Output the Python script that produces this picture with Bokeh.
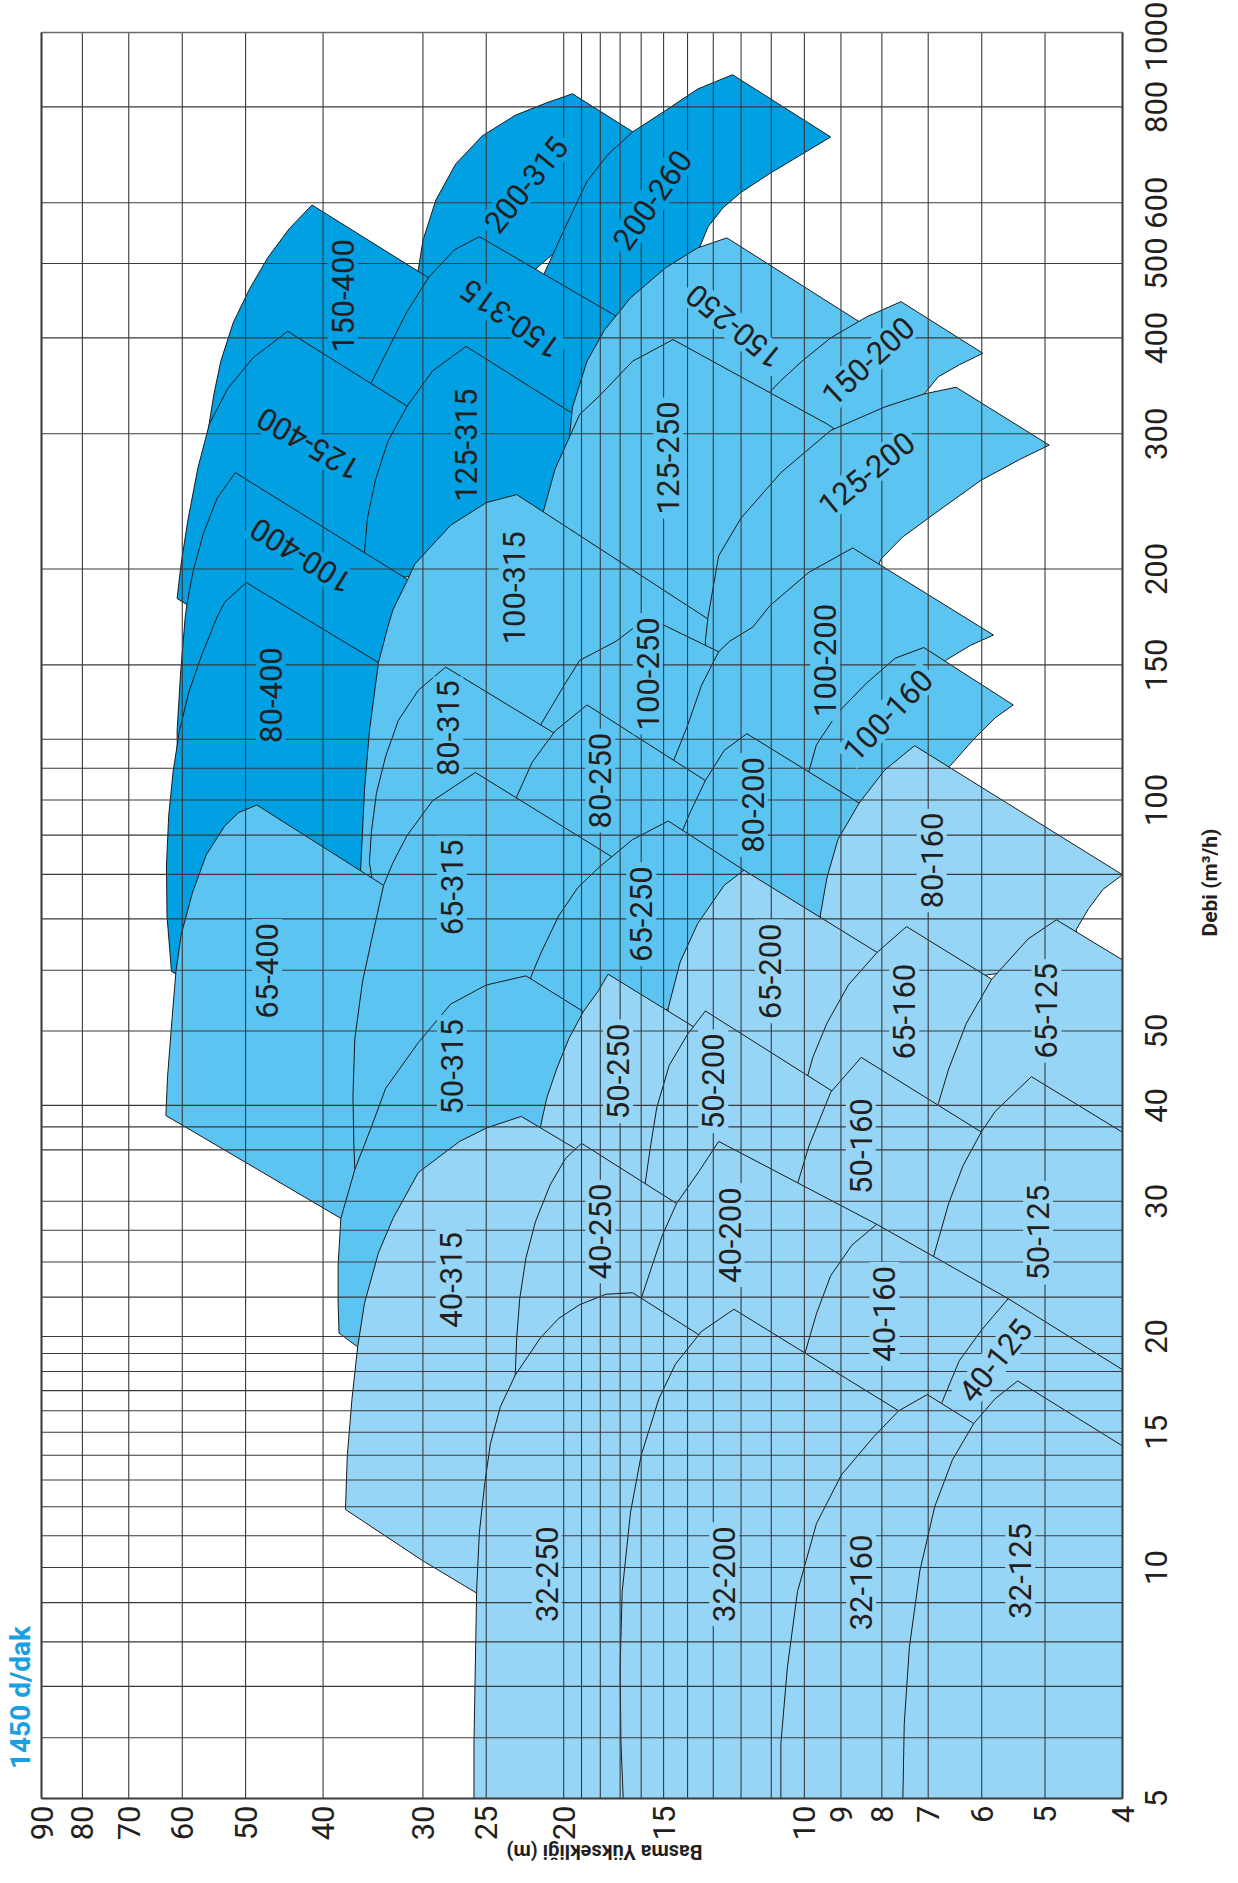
import math
from bokeh.plotting import figure
from bokeh.models import Range1d, Label, ColumnDataSource
from bokeh.core.properties import value
from bokeh.embed import file_html
from bokeh.resources import INLINE

DARK = "#00a0e3"
MED = "#5bc4f1"
LIGHT = "#96d5f5"
INK = "#231f20"

HEAD_GRID = [90, 80, 70, 60, 50, 40, 30, 25, 20, 19, 18, 17, 16, 15, 14, 13, 12, 11, 10, 9, 8, 7, 6, 5, 4]
HEAD_TICKS = [90, 80, 70, 60, 50, 40, 30, 25, 20, 15, 10, 9, 8, 7, 6, 5, 4]
FLOW_GRID = [1000, 800, 600, 500, 400, 300, 200, 150, 120, 110, 100, 90, 80, 70, 60, 50, 40, 37.5, 35,
             30, 27.5, 25, 22.5, 20, 19, 18, 17, 16, 15, 14, 13, 12, 11, 10, 9, 8, 7, 6, 5]
FLOW_TICKS = [5, 10, 15, 20, 30, 40, 50, 100, 150, 200, 300, 400, 500, 600, 800, 1000]

# ---- pump coverage outlines: head H (m), flow Q (m3/h) ----
H_200_315 = [30.9, 30.4, 30.0, 28.9, 27.3, 25.3, 23.0, 21.0, 19.5, 14.8, 23.7]
Q_200_315 = [423, 491, 536, 605, 674, 733, 780, 810, 832, 694, 454]
H_200_260 = [21.9, 21.2, 19.9, 18.7, 17.6, 16.4, 14.9, 13.6, 12.3, 9.27, 10.07, 11.05, 12.0, 12.64, 13.2, 13.5, 14.0]
Q_200_260 = [423, 483, 558, 640, 694, 742, 792, 844, 881, 731, 694, 655, 619, 591, 558, 527, 404]
H_150_400 = [56.0, 55.5, 54.8, 53.7, 51.8, 49.4, 46.9, 44.1, 41.3, 29.5, 26.3, 35.9]
Q_150_400 = [287, 310, 337, 373, 419, 464, 509, 555, 596, 479, 443, 303]
H_150_315 = [35.9, 34.8, 33.0, 31.4, 29.5, 27.4, 25.5, 14.0, 21.0]
Q_150_315 = [321, 350, 391, 433, 480, 521, 542, 377, 293]
H_125_400 = [60.9, 60.2, 59.1, 57.4, 55.5, 52.6, 48.9, 44.3, 31.4, 27.7, 44.1]
Q_125_400 = [183, 203, 230, 270, 309, 344, 377, 408, 326, 300, 149]
H_125_315 = [35.7, 35.5, 35.2, 34.4, 33.2, 31.4, 29.2, 26.5, 19.7, 16.4, 23.7]
Q_125_315 = [192, 210, 233, 261, 293, 326, 362, 390, 321, 290, 203]
H_100_400 = [60.8, 60.9, 60.3, 59.5, 59.2, 58.2, 56.5, 54.3, 51.5, 31.4, 26.3, 32.4, 44.1]
Q_100_400 = [103, 123, 146, 173, 180, 198, 222, 247, 267, 194, 173, 130, 123]
H_80_400 = [61.9, 62.2, 62.7, 62.8, 62.4, 61.6, 60.5, 58.9, 56.8, 54.3, 53.1, 49.9, 34.1, 30.7, 32.4, 44.1]
Q_80_400 = [59.8, 63.7, 70.6, 82.0, 95.2, 109, 123, 138, 154, 173, 181, 192, 151, 139, 77.4, 48.9]

H_150_250 = [19.7, 19.5, 18.7, 17.8, 16.5, 14.9, 13.6, 12.5, 8.54, 7.94, 10.3]
Q_150_250 = [293, 325, 373, 409, 451, 494, 524, 540, 420, 391, 287]
H_150_200 = [11.6, 11.2, 10.7, 10.07, 9.27, 8.36, 7.57, 5.98, 6.40, 6.80, 7.05, 7.94]
Q_150_200 = [307, 335, 352, 373, 400, 426, 446, 382, 369, 356, 340, 293]
H_125_250 = [21.3, 21.2, 20.5, 19.1, 18.0, 16.4, 14.6, 9.37, 8.54, 12.6]
Q_125_250 = [222, 238, 270, 318, 337, 373, 398, 309, 290, 161]
H_100_315 = [36.0, 35.9, 35.5, 35.0, 34.1, 33.2, 32.7, 31.4, 30.7, 27.7, 25.0, 22.9, 13.3, 12.0, 29.2]
Q_100_315 = [75, 81.0, 103, 123, 151, 168, 177, 193, 203, 228, 244, 250, 173, 161, 69.0]
H_125_200 = [13.2, 13.3, 13.2, 12.8, 12.0, 10.7, 9.27, 7.94, 7.09, 6.46, 4.94, 5.37, 6.01, 6.80, 7.54, 8.02, 8.36]
Q_125_200 = [146, 161, 173, 208, 233, 267, 303, 325, 338, 345, 290, 278, 261, 238, 220, 206, 185]
H_100_250 = [21.9, 21.4, 19.9, 19.1, 17.2, 15.7, 12.8, 11.6, 14.0]
Q_100_250 = [114, 125, 142, 152, 161, 173, 156, 147, 97.4]
H_100_200 = [14.6, 14.6, 14.0, 13.45, 12.8, 12.4, 11.6, 11.05, 9.87, 8.70, 5.80, 6.20, 6.66, 7.17, 8.81]
Q_100_200 = [102, 112, 125, 141, 156, 161, 168, 179, 198, 213, 164, 159, 152, 138, 97.4]
H_100_160 = [9.95, 9.87, 9.66, 9.08, 8.36, 7.70, 7.09, 5.48, 5.77, 6.14, 6.56, 7.54]
Q_100_160 = [99.7, 109, 118, 130, 142, 153, 158, 133, 128, 120, 111, 97.4]
H_80_315 = [34.5, 35.0, 34.8, 34.3, 33.4, 32.2, 30.4, 28.1, 20.5, 18.2, 23.7]
Q_80_315 = [75.6, 82.9, 90.9, 102, 114, 127, 139, 149, 122, 112, 86.8]
H_80_250 = [23.0, 22.9, 21.9, 20.5, 18.7, 13.3, 12.0, 12.4, 17.2]
Q_80_250 = [91.0, 101, 112, 123, 133, 106, 98.5, 86.8, 82.0]
H_80_200 = [14.3, 14.2, 13.9, 13.3, 12.6, 11.8, 8.54, 7.78, 8.36, 11.4]
Q_80_200 = [84.8, 91.3, 96.3, 106, 116, 122, 99.1, 93.0, 69.0, 69.0]
H_65_400 = [62.9, 62.6, 61.8, 61.1, 60.2, 58.3, 56.0, 53.1, 51.0, 48.4, 33.6, 31.0, 32.4, 34.1, 38.0]
Q_65_400 = [38.8, 43.6, 51.8, 59.8, 66.7, 75.6, 84.8, 92.5, 96.3, 98.5, 77.4, 73.5, 43.6, 26.3, 28.5]
H_65_315 = [36.5, 36.6, 36.7, 36.5, 35.7, 34.6, 33.6, 32.7, 31.4, 29.2, 25.8, 17.4, 15.5, 23.7]
Q_65_315 = [33.0, 35.4, 41.1, 48.9, 58.0, 67.4, 77.4, 82.9, 89.9, 99.7, 108.6, 84.3, 78.3, 43.6]
H_65_250 = [21.4, 22.0, 21.4, 20.3, 19.2, 18.0, 16.4, 14.8, 11.9, 10.3, 14.0, 17.2]
Q_65_250 = [54.8, 58.7, 62.9, 70.6, 76.9, 82.0, 88.8, 93.9, 81.0, 72.2, 54.8, 50.0]
H_50_315 = [38.2, 38.3, 38.3, 38.0, 36.5, 34.8, 33.4, 30.4, 27.7, 25.0, 22.3, 18.9, 16.4, 32.4]
Q_50_315 = [20.2, 22.1, 24.8, 28.5, 33.0, 37.5, 42.1, 48.3, 54.2, 57.4, 59.0, 53.0, 47.2, 17.8]

H_80_160 = [9.47, 9.55, 9.37, 9.08, 8.54, 7.94, 7.28, 4.0, 4.23, 4.41, 4.57, 4.50, 6.80]
Q_80_160 = [62.9, 70.8, 79.2, 88.8, 99.1, 109.3, 117.7, 79.9, 76.5, 72.2, 67.8, 61.5, 58.0]
H_65_200 = [14.9, 14.8, 14.3, 13.6, 12.6, 11.9, 8.11, 7.39, 9.27, 10.3]
Q_65_200 = [48.9, 53.6, 61.5, 69.0, 77.4, 81.0, 63.3, 59.4, 48.9, 38.8]
H_65_160 = [9.95, 9.90, 9.76, 9.37, 8.81, 8.11, 7.45, 5.83, 5.25, 6.80]
Q_65_160 = [39.7, 43.8, 46.2, 51.2, 57.4, 63.3, 68.4, 58.4, 54.8, 36.7]
H_65_125 = [6.88, 6.80, 6.60, 6.27, 5.83, 5.25, 4.84, 4.0, 4.0]
Q_65_125 = [34.6, 40.2, 44.6, 51.2, 58.4, 65.9, 69.8, 61.9, 32.7]
H_50_250 = [21.6, 21.4, 21.0, 20.4, 19.7, 18.9, 18.1, 17.6, 13.7, 12.4, 14.0, 15.0]
Q_50_250 = [33.8, 37.4, 40.9, 44.7, 48.9, 53.0, 56.4, 59.3, 50.5, 47.2, 38.8, 27.5]
H_50_200 = [15.9, 15.8, 15.6, 15.3, 14.76, 14.0, 13.3, 9.18, 8.36, 9.27]
Q_50_200 = [28.8, 31.9, 35.0, 39.7, 45.1, 49.5, 53.1, 41.6, 38.8, 30.9]
H_50_160 = [10.3, 10.2, 9.87, 9.27, 8.49, 6.00, 5.42, 6.14, 8.12]
Q_50_160 = [28.8, 31.6, 35.4, 41.6, 46.2, 36.9, 34.6, 22.1, 25.0]
H_50_125 = [6.95, 6.91, 6.60, 6.33, 6.01, 5.77, 5.20, 4.0, 4.0]
Q_50_125 = [22.9, 25.2, 29.8, 33.4, 36.9, 39.3, 43.6, 36.9, 16.6]
H_40_315 = [37.5, 37.3, 36.8, 36.2, 35.5, 34.1, 32.7, 30.4, 27.0, 24.95, 22.6, 19.4, 17.5, 23.7, 25.7, 30.0]
Q_40_315 = [11.9, 14.0, 16.6, 19.4, 22.1, 25.7, 28.5, 32.7, 35.9, 37.4, 38.7, 35.2, 32.2, 8.33, 9.26, 10.2]
H_40_250 = [23.0, 22.9, 22.7, 22.3, 21.7, 20.8, 19.9, 19.0, 14.45, 13.1, 19.3]
Q_40_250 = [17.8, 19.9, 22.4, 25.3, 28.2, 31.5, 34.1, 35.7, 29.8, 27.9, 13.2]
H_40_200 = [16.1, 16.0, 15.55, 15.05, 14.45, 13.55, 12.8, 8.12, 9.27]
Q_40_200 = [20.9, 22.4, 24.5, 27.1, 29.8, 32.8, 35.9, 28.0, 17.6]
H_40_160 = [10.05, 9.97, 9.66, 9.27, 8.72, 8.12, 5.56, 4.99, 6.14]
Q_40_160 = [17.4, 19.1, 21.4, 24.0, 26.3, 28.0, 22.4, 20.4, 13.2]
H_40_125 = [6.80, 6.73, 6.40, 6.00, 5.56, 4.0, 4.0]
Q_40_125 = [15.1, 16.4, 18.6, 20.4, 22.4, 18.1, 13.9]
H_32_250 = [25.9, 25.9, 25.8, 25.7, 25.5, 25.1, 24.7, 24.0, 23.0, 21.4, 20.3, 19.1, 17.7, 16.4, 13.55, 12.25, 10.0]
Q_32_250 = [5.0, 5.9, 7.42, 9.35, 11.1, 12.9, 14.5, 16.2, 17.8, 19.9, 21.1, 22.0, 22.7, 22.8, 20.1, 18.6, 5.0]
H_32_200 = [16.85, 16.96, 17.0, 16.9, 16.5, 16.0, 15.2, 14.5, 13.45, 12.25, 7.62, 6.95, 6.5]
Q_32_200 = [5.0, 5.9, 7.4, 9.3, 11.8, 14.0, 16.6, 18.4, 20.3, 21.7, 16.0, 15.0, 5.0]
H_32_160 = [10.7, 10.7, 10.5, 10.2, 9.66, 8.99, 8.19, 7.62, 7.02, 6.14, 5.53, 4.5]
Q_32_160 = [5.0, 5.9, 7.42, 9.3, 11.4, 13.2, 14.8, 16.0, 16.8, 15.4, 14.5, 5.0]
H_32_125 = [7.53, 7.5, 7.39, 7.17, 6.87, 6.53, 6.14, 5.77, 5.41, 4.0, 4.0]
Q_32_125 = [5.0, 6.25, 7.87, 9.9, 12.0, 13.8, 15.4, 16.6, 17.5, 14.4, 5.0]

# drawing order (later = on top)
PUMPS = [
    (H_200_315, Q_200_315, DARK), (H_200_260, Q_200_260, DARK), (H_150_400, Q_150_400, DARK),
    (H_150_315, Q_150_315, DARK), (H_125_400, Q_125_400, DARK), (H_125_315, Q_125_315, DARK),
    (H_100_400, Q_100_400, DARK), (H_80_400, Q_80_400, DARK),
    (H_150_250, Q_150_250, MED), (H_150_200, Q_150_200, MED), (H_125_250, Q_125_250, MED),
    (H_100_315, Q_100_315, MED), (H_125_200, Q_125_200, MED), (H_100_250, Q_100_250, MED),
    (H_100_200, Q_100_200, MED), (H_100_160, Q_100_160, MED), (H_80_315, Q_80_315, MED),
    (H_80_250, Q_80_250, MED), (H_80_200, Q_80_200, MED), (H_65_400, Q_65_400, MED),
    (H_65_315, Q_65_315, MED), (H_65_250, Q_65_250, MED), (H_50_315, Q_50_315, MED),
    (H_80_160, Q_80_160, LIGHT), (H_65_200, Q_65_200, LIGHT), (H_65_160, Q_65_160, LIGHT),
    (H_65_125, Q_65_125, LIGHT), (H_50_250, Q_50_250, LIGHT), (H_50_200, Q_50_200, LIGHT),
    (H_50_160, Q_50_160, LIGHT), (H_50_125, Q_50_125, LIGHT), (H_40_315, Q_40_315, LIGHT),
    (H_40_250, Q_40_250, LIGHT), (H_40_200, Q_40_200, LIGHT), (H_40_160, Q_40_160, LIGHT),
    (H_40_125, Q_40_125, LIGHT), (H_32_250, Q_32_250, LIGHT), (H_32_200, Q_32_200, LIGHT),
    (H_32_160, Q_32_160, LIGHT), (H_32_125, Q_32_125, LIGHT),
]

LABEL_TEXT = ["200-315", "200-260", "150-400", "150-315", "125-400", "125-315", "100-400", "80-400",
              "100-315", "150-250", "150-200", "125-250", "125-200", "100-250", "100-200", "100-160",
              "80-315", "80-250", "80-200", "65-400", "65-315", "65-250", "50-315",
              "80-160", "65-200", "65-160", "65-125", "50-250", "50-200", "50-160", "50-125",
              "40-315", "40-250", "40-200", "40-160", "40-125", "32-250", "32-200", "32-160", "32-125"]
LABEL_H = [22.3, 15.5, 37.8, 23.3, 41.7, 26.5, 42.6, 46.5,
           23.1, 12.25, 8.32, 14.8, 8.36, 15.7, 9.42, 7.86,
           27.9, 18.0, 11.6, 47.0, 27.6, 16.0, 27.6,
           6.93, 11.05, 7.5, 4.98, 17.1, 13.0, 8.5, 5.1,
           27.7, 18.0, 12.4, 7.94, 5.77, 21.0, 12.6, 8.49, 5.37]
LABEL_Q = [633, 605, 454, 423, 291, 290, 208, 137,
           189, 414, 373, 279, 266, 146, 152, 129,
           124, 106, 98.5, 59.9, 76.9, 71.0, 44.9,
           83.4, 59.8, 53.0, 53.1, 44.3, 43.0, 35.4, 27.3,
           23.7, 27.4, 27.1, 21.4, 18.6, 9.8, 9.8, 9.56, 9.9]
LABEL_ANGLE = [51, 55, 90, 145, 150, 90, 148, 90,
               90, 141, 43, 90, 39, 90, 90, 46,
               90, 90, 90, 90, 90, 90, 90,
               90, 90, 90, 90, 90, 90, 90, 90,
               90, 90, 90, 90, 51, 90, 90, 90, 90]
LABEL_BG = [DARK] * 8 + [MED] * 15 + [LIGHT] * 17

# ---- layout (page pixels; page has an 8px margin) ----
W, HT, M = 1222, 1867, 8
GX0, GX1, GY0, GY1 = 49, 1130, 40, 1806   # grid box on the page
DEC_X = math.log10(90 / 4)
DEC_Y = math.log10(1000 / 5)


def px_h(x):
    return 90 * 10 ** (-(x - GX0) / (GX1 - GX0) * DEC_X)


def px_q(y):
    return 1000 * 10 ** (-(y - GY0) / (GY1 - GY0) * DEC_Y)


p = figure(width=W, height=HT, x_axis_type="log", y_axis_type="log",
           x_range=Range1d(px_h(M), px_h(M + W)), y_range=Range1d(px_q(M + HT), px_q(M)),
           x_axis_location=None, y_axis_location=None, min_border=0,
           output_backend="svg", toolbar_location=None)
p.background_fill_color = "white"
p.border_fill_color = "white"
p.outline_line_color = None
p.grid.visible = False

src = ColumnDataSource(dict(xs=[h for h, q, c in PUMPS], ys=[q for h, q, c in PUMPS],
                            color=[c for h, q, c in PUMPS]))
p.patches("xs", "ys", source=src, fill_color="color", fill_alpha=1.0,
          line_color="#1a1a1a", line_width=1.0)

# grid lines over the coloured areas
p.segment(x0=HEAD_GRID, y0=[5] * len(HEAD_GRID), x1=HEAD_GRID, y1=[1000] * len(HEAD_GRID),
          line_color="#3a3a3a", line_width=1.1)
p.segment(x0=[90] * len(FLOW_GRID), y0=FLOW_GRID, x1=[4] * len(FLOW_GRID), y1=FLOW_GRID,
          line_color="#3a3a3a", line_width=1.1)
# frame
p.segment(x0=[90, 4, 90], y0=[5, 5, 5], x1=[90, 4, 4], y1=[1000, 1000, 5],
          line_color="#3a3a3a", line_width=2)
p.segment(x0=[90], y0=[1000], x1=[4], y1=[1000], line_color="#6a6a6a", line_width=1.6)

# tick labels
fx = px_h(1163)
p.text(x=[fx] * len(FLOW_TICKS), y=FLOW_TICKS, text=[str(v) for v in FLOW_TICKS],
       angle=math.pi / 2, text_align="center", text_baseline="middle",
       y_offset=[4 if v == 1000 else 0 for v in FLOW_TICKS],
       text_font=value("Roboto"), text_font_size=value("31px"), text_color=INK)
hy = px_q(GY1 + 7)
p.text(x=HEAD_TICKS, y=[hy] * len(HEAD_TICKS), text=[str(v) for v in HEAD_TICKS],
       angle=math.pi / 2, text_align="right", text_baseline="middle",
       text_font=value("Roboto"), text_font_size=value("31px"), text_color=INK)


def make_label(**kw):
    try:
        return Label(padding=4, **kw)
    except Exception:
        return Label(**kw)


for t, h, q, a, bg in zip(LABEL_TEXT, LABEL_H, LABEL_Q, LABEL_ANGLE, LABEL_BG):
    p.add_layout(make_label(x=h, y=q, text=t, angle=math.radians(a), text_align="center",
                            text_baseline="middle", text_font="Roboto", text_font_size="31px",
                            text_color=INK, background_fill_color=bg, background_fill_alpha=1.0))

p.add_layout(Label(x=px_h(1217), y=px_q(890), text="Debi (m³/h)", angle=math.pi / 2,
                   text_align="center", text_baseline="middle", text_font="Roboto",
                   text_font_style="bold", text_font_size="21px", text_color=INK))
p.add_layout(Label(x=px_h(612), y=px_q(1859), text="Basma Yüksekliği (m)", angle=math.pi,
                   text_align="center", text_baseline="middle", text_font="Roboto",
                   text_font_style="bold", text_font_size="20px", text_color=INK))
p.add_layout(Label(x=px_h(28), y=px_q(1705), text="1450 d/dak", angle=math.pi / 2,
                   text_align="center", text_baseline="middle", text_font="Roboto",
                   text_font_style="bold", text_font_size="28px", text_color="#1a9fe0"))

open("out.html", "w").write(file_html(p, INLINE))
